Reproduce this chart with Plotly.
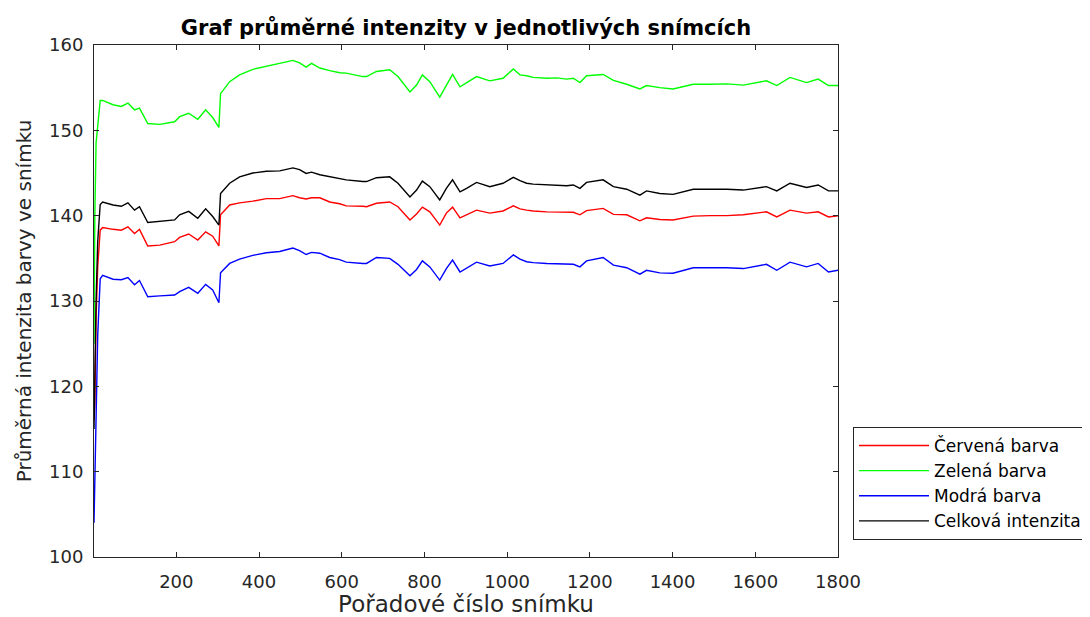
import plotly.graph_objects as go

frames = [1, 3, 6, 10, 16, 22, 47, 67, 83, 99, 111, 131, 160, 196, 208, 230, 252, 271, 288, 303,
          307, 329, 353, 385, 418, 450, 482, 498, 514, 527, 547, 571, 595, 611, 651, 660, 684, 716,
          736, 765, 781, 795, 813, 837, 853, 868, 886, 902, 926, 958, 990, 1015, 1031, 1047, 1063,
          1096, 1120, 1144, 1160, 1176, 1192, 1232, 1257, 1289, 1321, 1337, 1369, 1401, 1450, 1491,
          1531, 1571, 1627, 1652, 1684, 1724, 1752, 1777, 1800]

red = [116, 118, 128, 134, 138.3, 138.6, 138.4, 138.3, 138.7, 137.9, 138.4, 136.45, 136.55, 136.95,
       137.45, 137.85, 137.15, 138.1, 137.6, 136.45, 140.1, 141.25, 141.5, 141.7, 142.0, 142.0, 142.35,
       142.1, 141.95, 142.1, 142.1, 141.6, 141.4, 141.15, 141.1, 141.05, 141.45, 141.6, 141.05, 139.5,
       140.2, 141.0, 140.45, 138.9, 140.3, 141.0, 139.75, 140.1, 140.65, 140.3, 140.55, 141.15, 140.8,
       140.65, 140.55, 140.45, 140.4, 140.35, 140.4, 140.1, 140.6, 140.85, 140.15, 140.1, 139.4, 139.75,
       139.55, 139.5, 139.95, 140.0, 140.0, 140.1, 140.45, 139.85, 140.65, 140.3, 140.45, 139.85, 140.0]

green = [125, 140, 148.5, 150.5, 153.5, 153.5, 153.0, 152.8, 153.2, 152.4, 152.6, 150.8, 150.7, 151.0,
         151.6, 152.0, 151.3, 152.4, 151.5, 150.35, 154.3, 155.7, 156.5, 157.15, 157.5, 157.8, 158.2,
         157.9, 157.4, 157.85, 157.3, 157.0, 156.75, 156.7, 156.3, 156.3, 156.9, 157.1, 156.3, 154.5,
         155.3, 156.5, 155.7, 153.9, 155.3, 156.55, 155.1, 155.6, 156.3, 155.8, 156.1, 157.2, 156.5,
         156.4, 156.2, 156.1, 156.15, 156.0, 156.1, 155.6, 156.4, 156.55, 155.85, 155.4, 154.85, 155.25,
         155.0, 154.85, 155.4, 155.4, 155.45, 155.3, 155.8, 155.25, 156.2, 155.6, 156.0, 155.25, 155.25]

blue = [104, 110, 116, 126, 132.6, 133.0, 132.55, 132.5, 132.75, 131.9, 132.4, 130.5, 130.6, 130.7,
        131.1, 131.6, 130.9, 131.95, 131.3, 129.8, 133.3, 134.4, 134.9, 135.35, 135.65, 135.8, 136.2,
        135.9, 135.45, 135.7, 135.6, 135.1, 134.85, 134.55, 134.4, 134.4, 135.1, 135.0, 134.3, 132.95,
        133.7, 134.7, 134.0, 132.45, 133.8, 134.8, 133.4, 133.9, 134.55, 134.1, 134.4, 135.4, 134.9,
        134.6, 134.5, 134.4, 134.35, 134.3, 134.3, 134.0, 134.7, 135.1, 134.2, 133.9, 133.15, 133.6,
        133.3, 133.25, 133.9, 133.9, 133.9, 133.8, 134.3, 133.6, 134.55, 134.0, 134.4, 133.4, 133.6]

total = [115, 124, 130, 137, 141.3, 141.6, 141.25, 141.1, 141.5, 140.65, 141.05, 139.2, 139.3, 139.5,
         140.1, 140.5, 139.7, 140.8, 139.9, 138.9, 142.6, 143.8, 144.55, 145.0, 145.2, 145.25, 145.6,
         145.4, 144.95, 145.1, 144.8, 144.55, 144.35, 144.2, 144.0, 144.0, 144.45, 144.55, 143.8, 142.2,
         143.0, 144.05, 143.4, 141.85, 143.2, 144.2, 142.8, 143.2, 143.9, 143.4, 143.8, 144.5, 144.1,
         143.8, 143.7, 143.6, 143.6, 143.5, 143.6, 143.2, 143.9, 144.2, 143.4, 143.1, 142.4, 142.9,
         142.6, 142.5, 143.1, 143.1, 143.1, 143.0, 143.4, 142.9, 143.8, 143.3, 143.6, 142.9, 142.9]

series_names = ["Červená barva", "Zelená barva", "Modrá barva", "Celková intenzita"]
series_colors = ["#FF0000", "#00FF00", "#0000FF", "#000000"]
x_ticks = [200, 400, 600, 800, 1000, 1200, 1400, 1600, 1800]
y_ticks = [100, 110, 120, 130, 140, 150, 160]

title_text = "Graf průměrné intenzity v jednotlivých snímcích"
x_label = "Pořadové číslo snímku"
y_label = "Průměrná intenzita barvy ve snímku"

AX = "#262626"
FONT = "DejaVu Sans"

# page body adds an 8px offset, so the figure is 8px smaller than the window
W, H = 1082, 609
ML, MT, PW, PH = 86, 37, 744, 512

fig = go.Figure()
for name, col, vals in zip(series_names, series_colors, [red, green, blue, total]):
    fig.add_trace(go.Scatter(x=frames, y=vals, mode="lines", name=name,
                             line=dict(color=col, width=1.4)))

fig.update_layout(
    width=W, height=H,
    margin=dict(l=ML, r=W - ML - PW, t=MT, b=H - MT - PH, autoexpand=False),
    paper_bgcolor="white", plot_bgcolor="white",
    font=dict(family=FONT, color=AX, size=18),
    title=dict(text=title_text, x=0.5, xref="paper", xanchor="center",
               y=(H - 20) / H, yref="container", yanchor="middle",
               font=dict(family=FONT, size=21, color="#000000", weight="bold")),
    legend=dict(x=(845 - ML) / PW, xanchor="left", y=(MT + PH - 419) / PH, yanchor="top",
                bordercolor=AX, borderwidth=1, bgcolor="white",
                font=dict(family=FONT, size=17, color="#000000"),
                itemwidth=70, tracegroupgap=0),
    showlegend=True,
)
fig.update_xaxes(range=[1, 1800], tickvals=x_ticks, ticks="inside", ticklen=5, tickcolor=AX,
                 showline=True, linecolor=AX, linewidth=1, mirror="ticks", showgrid=False,
                 zeroline=False, automargin=False, tickfont=dict(family=FONT, size=18, color=AX),
                 ticklabelstandoff=8,
                 title=dict(text=x_label, font=dict(family=FONT, size=23, color=AX), standoff=7))
fig.update_yaxes(range=[100, 160], tickvals=y_ticks, ticks="inside", ticklen=5, tickcolor=AX,
                 showline=True, linecolor=AX, linewidth=1, mirror="ticks", showgrid=False,
                 zeroline=False, automargin=False, tickfont=dict(family=FONT, size=18, color=AX),
                 ticklabelstandoff=6,
                 title=dict(text=y_label, font=dict(family=FONT, size=20, color=AX), standoff=12))

fig.write_html("out.html")
